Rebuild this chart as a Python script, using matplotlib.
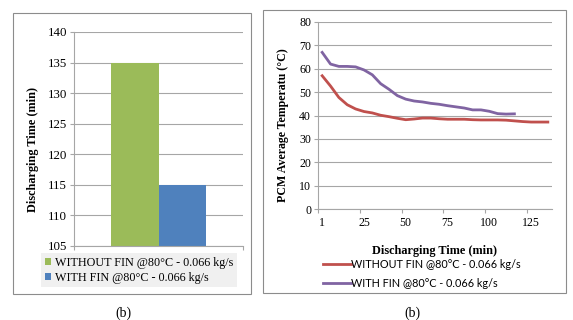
import numpy as np
import matplotlib
matplotlib.use("Agg")
import matplotlib.pyplot as plt
from matplotlib.patches import Rectangle, Patch
from matplotlib.lines import Line2D

# data
bar_labels = ["WITHOUT FIN @80°C - 0.066 kg/s", "WITH FIN @80°C - 0.066 kg/s"]
bar_values = [135, 115]
bar_colors = ["#9bbb59", "#4f81bd"]

time_min = [1, 5, 10, 15, 20, 25, 30, 35, 40, 45, 50, 55, 60, 65, 70,
            75, 80, 85, 90, 95, 100, 105, 110, 115, 120, 125, 130, 135]
temp_without_fin = [57.0, 52.6, 47.7, 44.6, 42.8, 41.7, 41.1, 40.1, 39.5, 38.8,
                    38.2, 38.5, 38.9, 38.9, 38.6, 38.4, 38.4, 38.4, 38.2, 38.1,
                    38.1, 38.1, 38.0, 37.7, 37.4, 37.2, 37.2, 37.2]
temp_with_fin = [67.0, 62.0, 61.0, 61.0, 60.8, 59.5, 57.4, 53.6, 51.2, 48.5,
                 47.0, 46.2, 45.8, 45.2, 44.8, 44.2, 43.7, 43.2, 42.4, 42.4,
                 41.8, 40.8, 40.6, 40.7]
line_labels = ["WITHOUT FIN @80°C - 0.066 kg/s", "WITH FIN @80°C - 0.066 kg/s"]
line_colors = ["#c0504d", "#8064a2"]

W, H = 573, 320
fig = plt.figure(figsize=(W / 100, H / 100), dpi=100)

serif = "Liberation Serif"
sans = "Lato"
grid_c = "#a6a6a6"


def px(x0, y0, x1, y1):
    return [x0 / W, 1 - y1 / H, (x1 - x0) / W, (y1 - y0) / H]


# panel frames
for x0, y0, x1, y1 in [(13, 13, 251, 294), (263, 10, 566, 293)]:
    fig.patches.append(Rectangle((x0 / W, 1 - y1 / H), (x1 - x0) / W, (y1 - y0) / H,
                                 transform=fig.transFigure, fill=False,
                                 edgecolor="#8c8c8c", lw=0.8))


def style_axes(ax, fs):
    for s in ["top", "right"]:
        ax.spines[s].set_visible(False)
    for s in ["left", "bottom"]:
        ax.spines[s].set_color(grid_c)
        ax.spines[s].set_linewidth(0.8)
    ax.yaxis.grid(True, color=grid_c, lw=0.8)
    ax.set_axisbelow(True)
    ax.tick_params(axis="y", colors=grid_c, length=3, width=0.8, labelcolor="black",
                   labelsize=fs, pad=2)
    for t in ax.get_yticklabels():
        t.set_fontfamily(serif)


# left: bar chart
ax1 = fig.add_axes(px(74, 32, 243, 246))
bw = 0.284
ax1.bar(-bw / 2, bar_values[0], width=bw, color=bar_colors[0], zorder=2)
ax1.bar(bw / 2, bar_values[1], width=bw, color=bar_colors[1], zorder=2)
ax1.set_xlim(-0.5, 0.5)
ax1.set_ylim(105, 140)
ax1.set_yticks(np.arange(105, 141, 5))
ax1.set_xticks([-0.5, 0.5])
ax1.set_xticklabels([])
ax1.tick_params(axis="x", colors=grid_c, length=3, width=0.8)
style_axes(ax1, 9.3)
ax1.set_ylabel("Discharging Time (min)", fontfamily=serif, fontweight="bold",
               fontsize=8.8)
ax1.yaxis.set_label_coords(-0.21, 0.45)
handles = [Patch(facecolor=c) for c in bar_colors]
leg1 = fig.legend(handles, bar_labels, loc="upper left",
                  bbox_to_anchor=(41 / W, 1 - 253 / H), prop={"family": serif, "size": 8.7},
                  frameon=True, fancybox=False, facecolor="#f0f0f0", edgecolor="none",
                  handlelength=0.55, handleheight=0.55, handletextpad=0.3,
                  labelspacing=0.25, borderpad=0.3, borderaxespad=0)
leg1.get_frame().set_alpha(1)

# right: line chart
ax2 = fig.add_axes(px(318, 22, 552, 209))
idx = np.arange(len(time_min))
ax2.plot(idx, temp_without_fin, color=line_colors[0], lw=2)
ax2.plot(idx[:len(temp_with_fin)], temp_with_fin, color=line_colors[1], lw=2)
ax2.set_xlim(-0.5, len(time_min) - 0.5)
ax2.set_ylim(0, 80)
ax2.set_yticks(np.arange(0, 81, 10))
ax2.set_xticks(idx[::5])
ax2.set_xticklabels([str(time_min[i]) for i in idx[::5]], fontfamily=serif)
ax2.set_xticks(np.arange(-0.5, len(time_min), 5), minor=True)
ax2.tick_params(axis="x", which="major", length=0, labelsize=8.6, pad=6)
ax2.tick_params(axis="x", which="minor", length=3, width=0.8, colors=grid_c)
style_axes(ax2, 8.6)
ax2.set_ylabel("PCM Average Temperatu (°C)", fontfamily=serif, fontweight="bold",
               fontsize=8.6)
ax2.yaxis.set_label_coords(-0.125, 0.45)
ax2.set_xlabel("Discharging Time (min)", fontfamily=serif, fontweight="bold",
               fontsize=8.8, labelpad=11)
lh = [Line2D([], [], color=c, lw=2) for c in line_colors]
fig.legend(lh, line_labels, loc="upper left", bbox_to_anchor=(323 / W, 1 - 259 / H),
           prop={"family": sans, "size": 7.8}, frameon=False,
           handlelength=2.6, handletextpad=0.0, labelspacing=0.7, borderaxespad=0,
           borderpad=0)

# captions
fig.text(123 / W, 1 - 313 / H, "(b)", fontfamily=serif, fontsize=10,
         ha="center", va="center")
fig.text(412 / W, 1 - 313 / H, "(b)", fontfamily=serif, fontsize=10,
         ha="center", va="center")

fig.savefig("out.png", dpi=100)
